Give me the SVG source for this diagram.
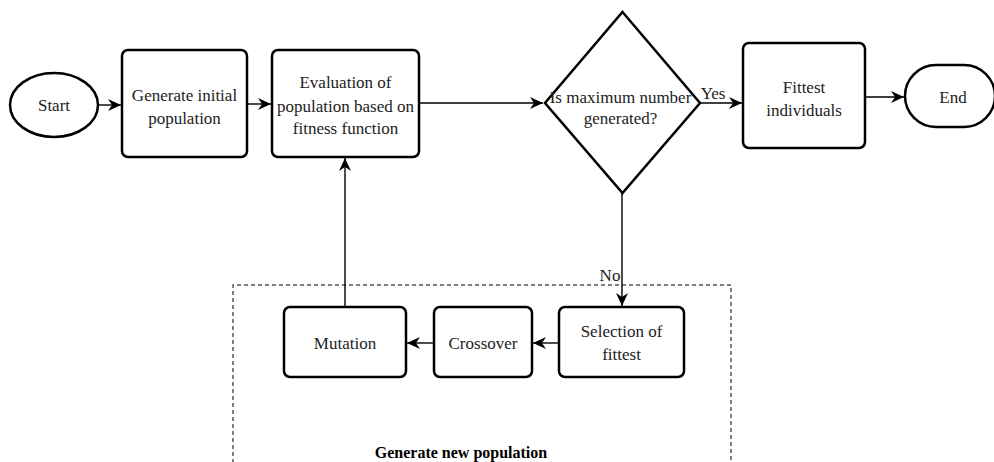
<svg xmlns="http://www.w3.org/2000/svg" width="994" height="462" viewBox="0 0 994 462" font-family="Liberation Serif, Times New Roman, serif">
<style>
.n{fill:#fff;stroke:#000;stroke-width:2.5}
text{font-family:'Liberation Serif','Times New Roman',serif;font-size:17px;fill:#222;text-anchor:middle}
.c{fill:none;stroke:#000;stroke-width:1.4}
.b{font-weight:bold;font-size:16px;fill:#000}
</style>
<defs>
<marker id="ah" markerUnits="userSpaceOnUse" markerWidth="14" markerHeight="12" refX="13" refY="6" orient="auto">
<path d="M0,0 L13,6 L0,12 L4,6 z" fill="#000"/>
</marker>
</defs>
<rect width="994" height="462" fill="#fff"/>
<g id="group-new-population">
<path d="M233,470 V285 H731 V470" fill="none" stroke="#555" stroke-width="1.5" stroke-dasharray="4 3"/>
<text class="b" x="461" y="458">Generate new population</text>
</g>
<g id="connectors">
<line class="c" x1="98" y1="105" x2="121" y2="105" marker-end="url(#ah)"/>
<line class="c" x1="247" y1="104" x2="271" y2="104" marker-end="url(#ah)"/>
<line class="c" x1="419" y1="103" x2="543" y2="103" marker-end="url(#ah)"/>
<line class="c" x1="700" y1="103" x2="742" y2="103" marker-end="url(#ah)"/>
<text x="713" y="99">Yes</text>
<line class="c" x1="865" y1="97" x2="904" y2="97" marker-end="url(#ah)"/>
<line class="c" x1="622" y1="193" x2="622" y2="306" marker-end="url(#ah)"/>
<text x="610" y="281">No</text>
<line class="c" x1="559" y1="343" x2="533" y2="343" marker-end="url(#ah)"/>
<line class="c" x1="434" y1="343" x2="407" y2="343" marker-end="url(#ah)"/>
<line class="c" x1="345" y1="307" x2="345" y2="158" marker-end="url(#ah)"/>
</g>
<g id="start">
<ellipse class="n" cx="54" cy="105" rx="44" ry="32"/>
<text x="54" y="111">Start</text>
</g>
<g id="generate-initial">
<rect class="n" x="122" y="50" width="125" height="107" rx="6"/>
<text x="184.5" y="101">Generate initial</text>
<text x="184.5" y="124">population</text>
</g>
<g id="evaluation">
<rect class="n" x="272" y="50" width="147" height="107" rx="6"/>
<text x="345.5" y="88">Evaluation of</text>
<text x="345.5" y="112">population based on</text>
<text x="345.5" y="134">fitness function</text>
</g>
<g id="decision">
<polygon class="n" points="622.5,12 700,103 622.5,193 545,103"/>
<text x="620.5" y="103">Is maximum number</text>
<text x="620.5" y="124">generated?</text>
</g>
<g id="fittest-individuals">
<rect class="n" x="743" y="43" width="122" height="105" rx="6"/>
<text x="804" y="93">Fittest</text>
<text x="804" y="116">individuals</text>
</g>
<g id="end">
<rect class="n" x="905" y="65" width="90" height="62" rx="31"/>
<text x="953" y="103">End</text>
</g>
<g id="mutation">
<rect class="n" x="284" y="307" width="122" height="70" rx="6"/>
<text x="345" y="349">Mutation</text>
</g>
<g id="crossover">
<rect class="n" x="434" y="307" width="98" height="70" rx="6"/>
<text x="483" y="349">Crossover</text>
</g>
<g id="selection">
<rect class="n" x="559" y="307" width="125" height="70" rx="6"/>
<text x="621.5" y="337">Selection of</text>
<text x="621.5" y="360">fittest</text>
</g>
</svg>
